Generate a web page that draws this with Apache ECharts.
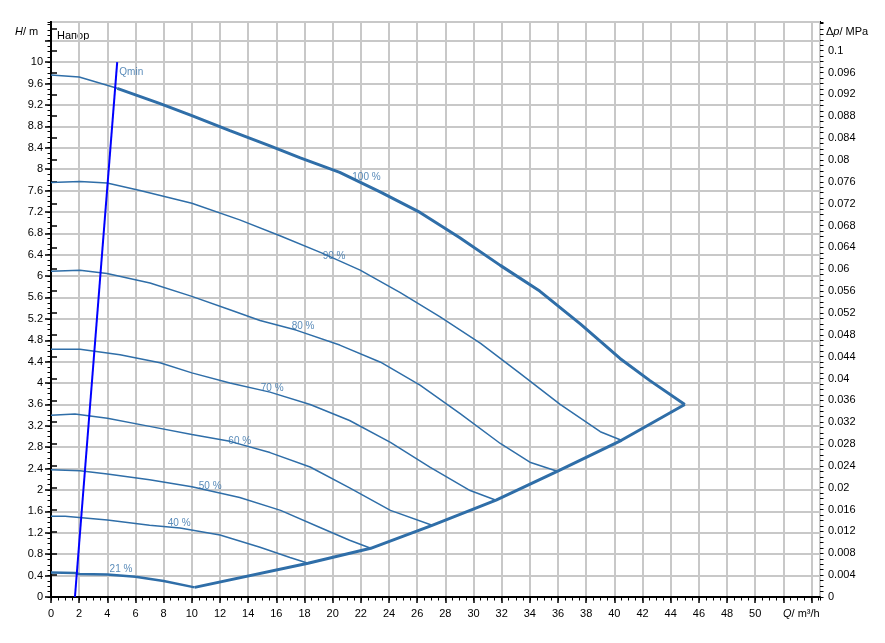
<!DOCTYPE html>
<html><head><meta charset="utf-8">
<script src="https://cdn.jsdelivr.net/npm/echarts@6/dist/echarts.min.js"></script>
<style>html,body{margin:0;padding:0;background:#fff}#c{width:885px;height:643px}</style>
</head><body><div id="c"></div>
<script>
// ---- data (Q in m3/h, H in m) ----
const qMin = [[1.7, 0], [4.7, 10.0]];
const curve100 = [[0,9.76],[2,9.72],[4.7,9.51],[7.7,9.23],[10,9.0],[12.7,8.72],[15.5,8.44],[17.7,8.21],[20.5,7.94],[23.4,7.57],[26.2,7.19],[29,6.72],[31.9,6.2],[34.7,5.72],[37.6,5.1],[40.4,4.46],[42.5,4.05],[45,3.6]];
const curve90 = [[0,7.75],[2.06,7.77],[3.98,7.74],[6.32,7.6],[10,7.36],[13.4,7.05],[16.3,6.75],[19.25,6.43],[21.95,6.11],[24.8,5.69],[27.6,5.24],[30.5,4.74],[33.3,4.18],[36.15,3.6],[39,3.09],[40.5,2.93]];
const curve80 = [[0,6.09],[2.06,6.11],[3.98,6.05],[7.03,5.87],[10,5.62],[12.7,5.37],[14.84,5.17],[17.4,4.99],[20.5,4.71],[23.4,4.39],[26.2,3.96],[29.05,3.43],[31.9,2.87],[34,2.52],[35.94,2.35]];
const curve70 = [[0,4.63],[2.06,4.63],[4.9,4.53],[7.74,4.38],[10,4.19],[12.7,4.0],[15.55,3.83],[18.4,3.6],[21.2,3.3],[24.1,2.89],[26.9,2.43],[29.76,1.99],[31.6,1.81]];
const curve60 = [[0,3.4],[1.7,3.42],[4,3.34],[7,3.19],[10,3.04],[12.7,2.91],[15.55,2.7],[18.4,2.43],[21.2,2.04],[24.1,1.62],[27.06,1.34]];
const curve50 = [[0,2.38],[2.06,2.36],[4,2.3],[7,2.19],[10,2.06],[13.4,1.86],[16.3,1.62],[19.1,1.3],[21.2,1.06],[22.7,0.91]];
const curve40 = [[0,1.51],[1,1.51],[4,1.44],[7,1.34],[9.16,1.29],[12,1.16],[14.84,0.93],[16.97,0.74],[18.25,0.63]];
const curve21 = [[0,0.46],[1.7,0.45],[2,0.43],[4,0.42],[6,0.38],[8,0.3],[10.2,0.18]];
const envelope = [[10.2,0.18],[18.25,0.63],[22.7,0.91],[27.06,1.34],[31.6,1.81],[35.94,2.35],[40.5,2.93],[45,3.6]];
const curveLabels = [[22.4,7.85,'100 %'],[20.1,6.37,'90 %'],[17.9,5.06,'80 %'],[15.7,3.90,'70 %'],[13.4,2.91,'60 %'],[11.3,2.07,'50 %'],[9.1,1.37,'40 %'],[4.97,0.52,'21 %'],[5.7,9.81,'Qmin']];
// axis ranges / tick steps / tick labels
const qMax = 54.6, qStep = 2, qMinorStep = 0.5, qLastLabel = 50;
const hMax = 10.75, hStep = 0.4, hMinorStep = 0.1, hLastLabel = 10;
const pMax = 0.10525, pStep = 0.004, pMinorStep = 0.001, pLastLabel = 0.1;

const BLUE = '#2f6ea8';
const FONT = 'Liberation Sans, Arial, sans-serif';
const qMinX = qMin[1][0];
function split(arr){ // thin before Qmin, thick after
  const thin = arr.filter(p => p[0] <= qMinX + 1e-9);
  const thick = arr.filter(p => p[0] >= qMinX - 1e-9);
  return [thin, thick];
}
function lineSeries(data, w){
  return {type:'line', data, showSymbol:false, symbol:'none', smooth:false, silent:true,
    lineStyle:{color:BLUE, width:w}, z:3, animation:false};
}
const [c100a, c100b] = split(curve100);
const series = [
  lineSeries(c100a, 1.5), lineSeries(c100b, 3),
  lineSeries(curve90, 1.5), lineSeries(curve80, 1.5), lineSeries(curve70, 1.5),
  lineSeries(curve60, 1.5), lineSeries(curve50, 1.5), lineSeries(curve40, 1.5),
  lineSeries(curve21, 2.5), lineSeries(envelope, 3),
  {type:'line', data:qMin, showSymbol:false, symbol:'none', lineStyle:{color:'#0000ff', width:2}, z:4, animation:false},
  {type:'scatter', data:curveLabels, symbolSize:0, silent:true, z:5, animation:false,
    label:{show:true, position:'inside', formatter:p=>p.data[2], color:BLUE, fontSize:10, fontFamily:FONT}}
];
const majorTick = {show:true, length:6, lineStyle:{color:'#000', width:1.5}};
const minorTick = {show:true, length:3.5, lineStyle:{color:'#000', width:1}};
const labelBase = {color:'#000', fontSize:11, fontFamily:FONT};
const GRIDC = '#c8c8c8';
function minorAxis(max, step, pos){
  return {type:'value', min:0, max, interval:step, position:pos, offset:0,
    axisLine:{show:false}, axisTick:minorTick, axisLabel:{show:false},
    splitLine:{show:false}, minorTick:{show:false}, minorSplitLine:{show:false}};
}
const chart = echarts.init(document.getElementById('c'));
chart.setOption({
  animation:false,
  backgroundColor:'#fff',
  grid:{left:51, right:65, top:22, bottom:46, show:true, borderColor:'#000', borderWidth:2, containLabel:false},
  xAxis:[
    {type:'value', min:0, max:qMax, interval:qStep, position:'bottom',
      axisLine:{show:true, lineStyle:{color:'#000', width:2}},
      axisTick:majorTick, minorTick:{show:false}, minorSplitLine:{show:false},
      axisLabel:Object.assign({margin:11, showMaxLabel:false, formatter:v=> v>qLastLabel+1e-6?'':String(v)}, labelBase),
      splitLine:{show:true, lineStyle:{color:GRIDC, width:2}}},
    minorAxis(qMax, qMinorStep, 'bottom')
  ],
  yAxis:[
    {type:'value', min:0, max:hMax, interval:hStep, position:'left',
      axisLine:{show:true, lineStyle:{color:'#000', width:2}},
      axisTick:majorTick, minorTick:{show:false}, minorSplitLine:{show:false},
      axisLabel:Object.assign({margin:8, showMaxLabel:false, formatter:v=> v>hLastLabel+1e-6?'':String(+v.toFixed(1))}, labelBase),
      splitLine:{show:true, lineStyle:{color:GRIDC, width:2}}},
    {type:'value', min:0, max:pMax, interval:pStep, position:'right',
      axisLine:{show:true, lineStyle:{color:'#000', width:2}},
      axisTick:majorTick, minorTick:{show:false}, minorSplitLine:{show:false},
      axisLabel:Object.assign({margin:8, showMaxLabel:false, formatter:v=> v>pLastLabel+1e-6?'':String(+v.toFixed(3))}, labelBase),
      splitLine:{show:false}},
    minorAxis(hMax, hMinorStep, 'left'),
    minorAxis(pMax, pMinorStep, 'right')
  ],
  graphic:[
    {type:'text', x:15, y:32, style:{text:'{i|H}/ m', rich:{i:{fontStyle:'italic', fontSize:11, fontFamily:FONT}}, fontSize:11, fontFamily:FONT, fill:'#000', verticalAlign:'middle'}},
    {type:'text', x:57, y:36, style:{text:'Напор', fontSize:11, fontFamily:FONT, fill:'#000', verticalAlign:'middle'}},
    {type:'text', x:826, y:32, style:{text:'Δ{i|p}/ MPa', rich:{i:{fontStyle:'italic', fontSize:11, fontFamily:FONT}}, fontSize:11, fontFamily:FONT, fill:'#000', verticalAlign:'middle'}},
    {type:'text', x:783, y:614, style:{text:'{i|Q}/ m³/h', rich:{i:{fontStyle:'italic', fontSize:11, fontFamily:FONT}}, fontSize:11, fontFamily:FONT, fill:'#000', verticalAlign:'middle'}}
  ],
  series
});
</script></body></html>
